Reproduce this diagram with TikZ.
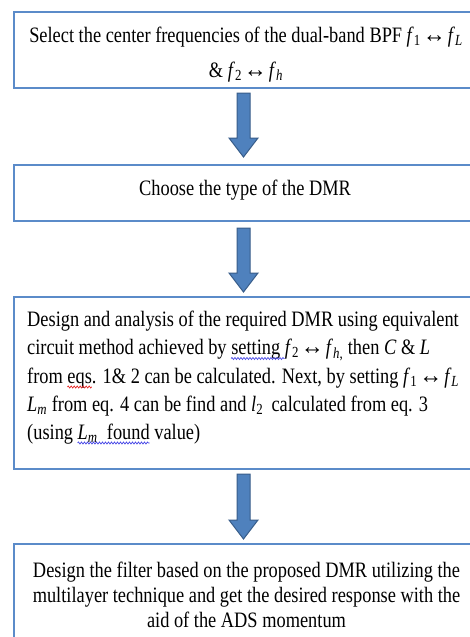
\documentclass[tikz,border=0pt]{standalone}
\usepackage{graphicx}
\usepackage{fontspec}
\setmainfont{Liberation Serif}[FakeStretch=0.835]
\usetikzlibrary{calc,decorations.pathmorphing}
\definecolor{boxblue}{RGB}{91,139,201}
\definecolor{arrfill}{RGB}{79,129,189}
\definecolor{arrline}{RGB}{56,93,138}
\definecolor{wavebl}{RGB}{70,70,230}
\definecolor{wavered}{RGB}{230,40,40}
\newcommand\fq[1]{\textit{f}\textsubscript{#1}}
\newcommand\lr{\kern2pt\scalebox{1.25}[1.1]{↔}\kern2pt}
\newcommand\txtfont{\fontsize{22}{25}\selectfont}
\newlength\wA \newlength\wB \newlength\wC \newlength\wD \newlength\wE \newlength\wF
\tikzset{
  flowbox/.style={draw=boxblue, line width=2pt, rectangle, minimum width=464pt, inner sep=0pt},
  txt/.style={inner sep=0pt, font=\txtfont},
  blockarr/.style={fill=arrfill, draw=arrline, line width=1pt, line join=miter},
  spellwave/.style={line width=0.7pt, decorate, decoration={snake, amplitude=1pt, segment length=3pt}}
}
\newcommand\blockarrow[2]{% top y, tip y
  \draw[blockarr] (237,#1) -- (250,#1) -- (250,#2-19) -- (258,#2-19) -- (243.5,#2) -- (229,#2-19) -- (237,#2-19) -- cycle;
}
\begin{document}
\settowidth{\wA}{\txtfont circuit method achieved by }%
\settowidth{\wB}{\txtfont setting }%
\settowidth{\wC}{\txtfont from }%
\settowidth{\wD}{\txtfont eqs}%
\settowidth{\wE}{\txtfont (using }%
\settowidth{\wF}{\txtfont \textit{L}\textsubscript{\textit{m}}\ \ found}%
\begin{tikzpicture}[x=1pt,y=-1pt]
\useasboundingbox (0,0) rectangle (470,637);
\clip (0,0) rectangle (470,637);
\fill[white] (0,0) rectangle (470,637);
% boxes
\node[flowbox, minimum height=76pt] (b1) at (246,50) {};
\node[flowbox, minimum height=56.5pt] (b2) at (246,192.75) {};
\node[flowbox, minimum height=171.5pt] (b3) at (246,382.75) {};
\node[flowbox, minimum height=98pt] (b4) at (246,593) {};
% texts box 1
\node[txt, anchor=base] (t1a) at (246,42) {Select the center frequencies of the dual-band BPF \fq{1}\lr\fq{\textit{L}}};
\node[txt, anchor=base] (t1b) at (246,77) {\& \fq{2}\lr\fq{\textit{h}}};
% box 2
\node[txt, anchor=base] (t2) at (245,195) {Choose the type of the DMR};
% box 3
\node[txt, anchor=base west] (t3a) at (27,326) {Design and analysis of the required DMR using equivalent};
\node[txt, anchor=base west] (t3b) at (27,354.5) {circuit method achieved by setting \fq{2}\lr\fq{\textit{h},} then \textit{C} \& \textit{L}};
\node[txt, anchor=base west] (t3c) at (27,383) {from eqs. 1\& 2 can be calculated. Next, by setting \fq{1}\lr\fq{\textit{L}}};
\node[txt, anchor=base west] (t3d) at (27,411) {\textit{L}\textsubscript{\textit{m}} from eq. 4 can be find and \textit{l}\textsubscript{2}\, calculated from eq. 3};
\node[txt, anchor=base west] (t3e) at (27,439) {(using \textit{L}\textsubscript{\textit{m}}\ \ found value)};
% spell-check waves
\path (t3b.base west) ++(\wA,-4pt) coordinate (w1s) ++(\wB,0pt) coordinate (w1e);
\path (t3c.base west) ++(\wC,-4pt) coordinate (w2s) ++(\wD,0pt) coordinate (w2e);
\path (t3e.base west) ++(\wE,-4pt) coordinate (w3s) ++(\wF,0pt) coordinate (w3e);
\draw[spellwave, draw=wavebl] (w1s) -- (w1e);
\draw[spellwave, draw=wavered] (w2s) -- (w2e);
\draw[spellwave, draw=wavebl] (w3s) -- (w3e);
% box 4
\node[txt, anchor=base] (t4a) at (246.5,577) {Design the filter based on the proposed DMR utilizing the};
\node[txt, anchor=base] (t4b) at (246.5,602) {multilayer technique and get the desired response with the};
\node[txt, anchor=base] (t4c) at (246.5,627) {aid of the ADS momentum};
% arrows
\blockarrow{93}{157}
\blockarrow{228}{292}
\blockarrow{474}{539}
\end{tikzpicture}
\end{document}
